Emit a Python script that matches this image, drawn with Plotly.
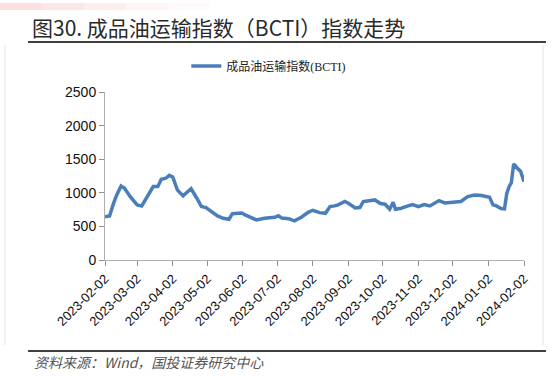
import plotly.graph_objects as go

dates = ["2023-02-02","2023-02-06","2023-02-09","2023-02-12","2023-02-16","2023-02-19","2023-02-24",
         "2023-03-02","2023-03-06","2023-03-09","2023-03-13","2023-03-16","2023-03-20","2023-03-23",
         "2023-03-27","2023-03-30","2023-04-02","2023-04-06","2023-04-11","2023-04-14","2023-04-18",
         "2023-04-23","2023-04-27","2023-05-01","2023-05-06","2023-05-11","2023-05-16","2023-05-21",
         "2023-05-24","2023-06-01","2023-06-05","2023-06-14","2023-06-21","2023-06-30","2023-07-03",
         "2023-07-06","2023-07-12","2023-07-17","2023-07-23","2023-07-29","2023-08-02","2023-08-08",
         "2023-08-13","2023-08-17","2023-08-21","2023-08-24","2023-08-30","2023-09-02","2023-09-08",
         "2023-09-12","2023-09-15","2023-09-21","2023-09-25","2023-09-30","2023-10-04","2023-10-08",
         "2023-10-11","2023-10-13","2023-10-18","2023-10-24","2023-10-28","2023-11-02","2023-11-07",
         "2023-11-12","2023-11-16","2023-11-20","2023-11-25","2023-12-02","2023-12-09","2023-12-15",
         "2023-12-21","2023-12-27","2024-01-03","2024-01-06","2024-01-09","2024-01-13","2024-01-16",
         "2024-01-18","2024-01-20","2024-01-22","2024-01-24","2024-01-27","2024-01-30","2024-02-02"]
bcti = [645, 655, 820, 960, 1100, 1068, 943,
        820, 805, 894, 994, 1092, 1092, 1202,
        1217, 1260, 1235, 1043, 954, 994, 1060,
        919, 795, 780, 710, 656, 621, 606,
        690, 700, 665, 596, 621, 636, 658,
        625, 615, 583, 636, 710, 740, 705,
        695, 795, 805, 820, 870, 845, 775,
        780, 870, 884, 894, 840, 830, 755,
        860, 755, 770, 805, 825, 795, 825,
        805, 845, 884, 850, 854, 870, 943,
        968, 960, 935, 820, 805, 765, 760,
        990, 1092, 1150, 1430, 1370, 1320, 1167]

tick_vals = ["2023-02-02","2023-03-02","2023-04-02","2023-05-02","2023-06-02","2023-07-02",
             "2023-08-02","2023-09-02","2023-10-02","2023-11-02","2023-12-02","2024-01-02","2024-02-02"]
tick_text = tick_vals
y_ticks = [0, 500, 1000, 1500, 2000, 2500]

title_text = "图30. 成品油运输指数（BCTI）指数走势"
series_name = "成品油运输指数(BCTI)"
source_text = "资料来源：Wind，国投证券研究中心"

fig = go.Figure()
fig.add_trace(go.Scatter(x=dates, y=bcti, mode="lines", name=series_name,
                         line=dict(color="#4a7ebb", width=3.5)))

fig.update_layout(
    width=553, height=377,
    margin=dict(l=105, r=29, t=92, b=117, autoexpand=False),
    paper_bgcolor="white", plot_bgcolor="white",
    font=dict(family="Liberation Sans, Arial, sans-serif", color="#000"),
    showlegend=True,
    legend=dict(orientation="h", x=0.194, y=1.155, xanchor="left", yanchor="middle",
                font=dict(family="Liberation Serif, Noto Sans CJK SC", size=12, color="#222"),
                bgcolor="rgba(0,0,0,0)", itemwidth=30),
    xaxis=dict(type="date", range=["2023-02-02", "2024-02-02"], automargin=False,
               tickmode="array", tickvals=tick_vals, ticktext=tick_text, tickangle=-45,
               showgrid=False, zeroline=False, showline=True, linecolor="#b0b0b0", linewidth=1,
               ticks="outside", ticklen=5, tickcolor="#909090",
               tickfont=dict(size=13, color="#111")),
    yaxis=dict(range=[0, 2500], tickmode="array", tickvals=y_ticks, automargin=False,
               showgrid=False, zeroline=False, showline=True, linecolor="#b0b0b0", linewidth=1,
               ticks="outside", ticklen=5, tickcolor="#909090",
               tickfont=dict(size=14, color="#111")),
)

# decorative header band (fading)
for i, op in enumerate([0.18, 0.14, 0.10, 0.06, 0.03]):
    fig.add_shape(type="rect", xref="paper", yref="paper",
                  x0=(0 - 105) / 419 + i * 0.1, x1=(0 - 105) / 419 + (i + 1) * 0.1,
                  y0=(260 - 3) / 168, y1=(260 - 10) / 168,
                  line=dict(width=0), fillcolor=f"rgba(230,90,80,{op})", layer="below")

# rules
fig.add_shape(type="line", xref="paper", yref="paper",
              x0=(28 - 105) / 419, x1=(546 - 105) / 419, y0=(260 - 42) / 168, y1=(260 - 42) / 168,
              line=dict(color="#000", width=1.5))
fig.add_shape(type="line", xref="paper", yref="paper",
              x0=(28 - 105) / 419, x1=(546 - 105) / 419, y0=(260 - 351) / 168, y1=(260 - 351) / 168,
              line=dict(color="#000", width=1.5))
# faint frame lines
for px in [5, 543]:
    fig.add_shape(type="line", xref="paper", yref="paper",
                  x0=(px - 105) / 419, x1=(px - 105) / 419, y0=(260 - 45) / 168, y1=(260 - 345) / 168,
                  line=dict(color="#e4e4e4", width=1))

fig.add_annotation(text=title_text, xref="paper", yref="paper",
                   x=(30 - 105) / 419, y=(260 - 27) / 168, xanchor="left", yanchor="middle",
                   showarrow=False,
                   font=dict(family="Noto Sans CJK SC", size=21, color="#2a2a2a"))
fig.add_annotation(text=f"<i>{source_text}</i>", xref="paper", yref="paper",
                   x=(32 - 105) / 419, y=(260 - 362) / 168, xanchor="left", yanchor="middle",
                   showarrow=False,
                   font=dict(family="Noto Sans CJK SC", size=14, color="#555"))

fig.write_html("out.html", config={"displayModeBar": False},
               post_script="document.body.style.margin='0px';document.body.style.overflow='hidden';")
